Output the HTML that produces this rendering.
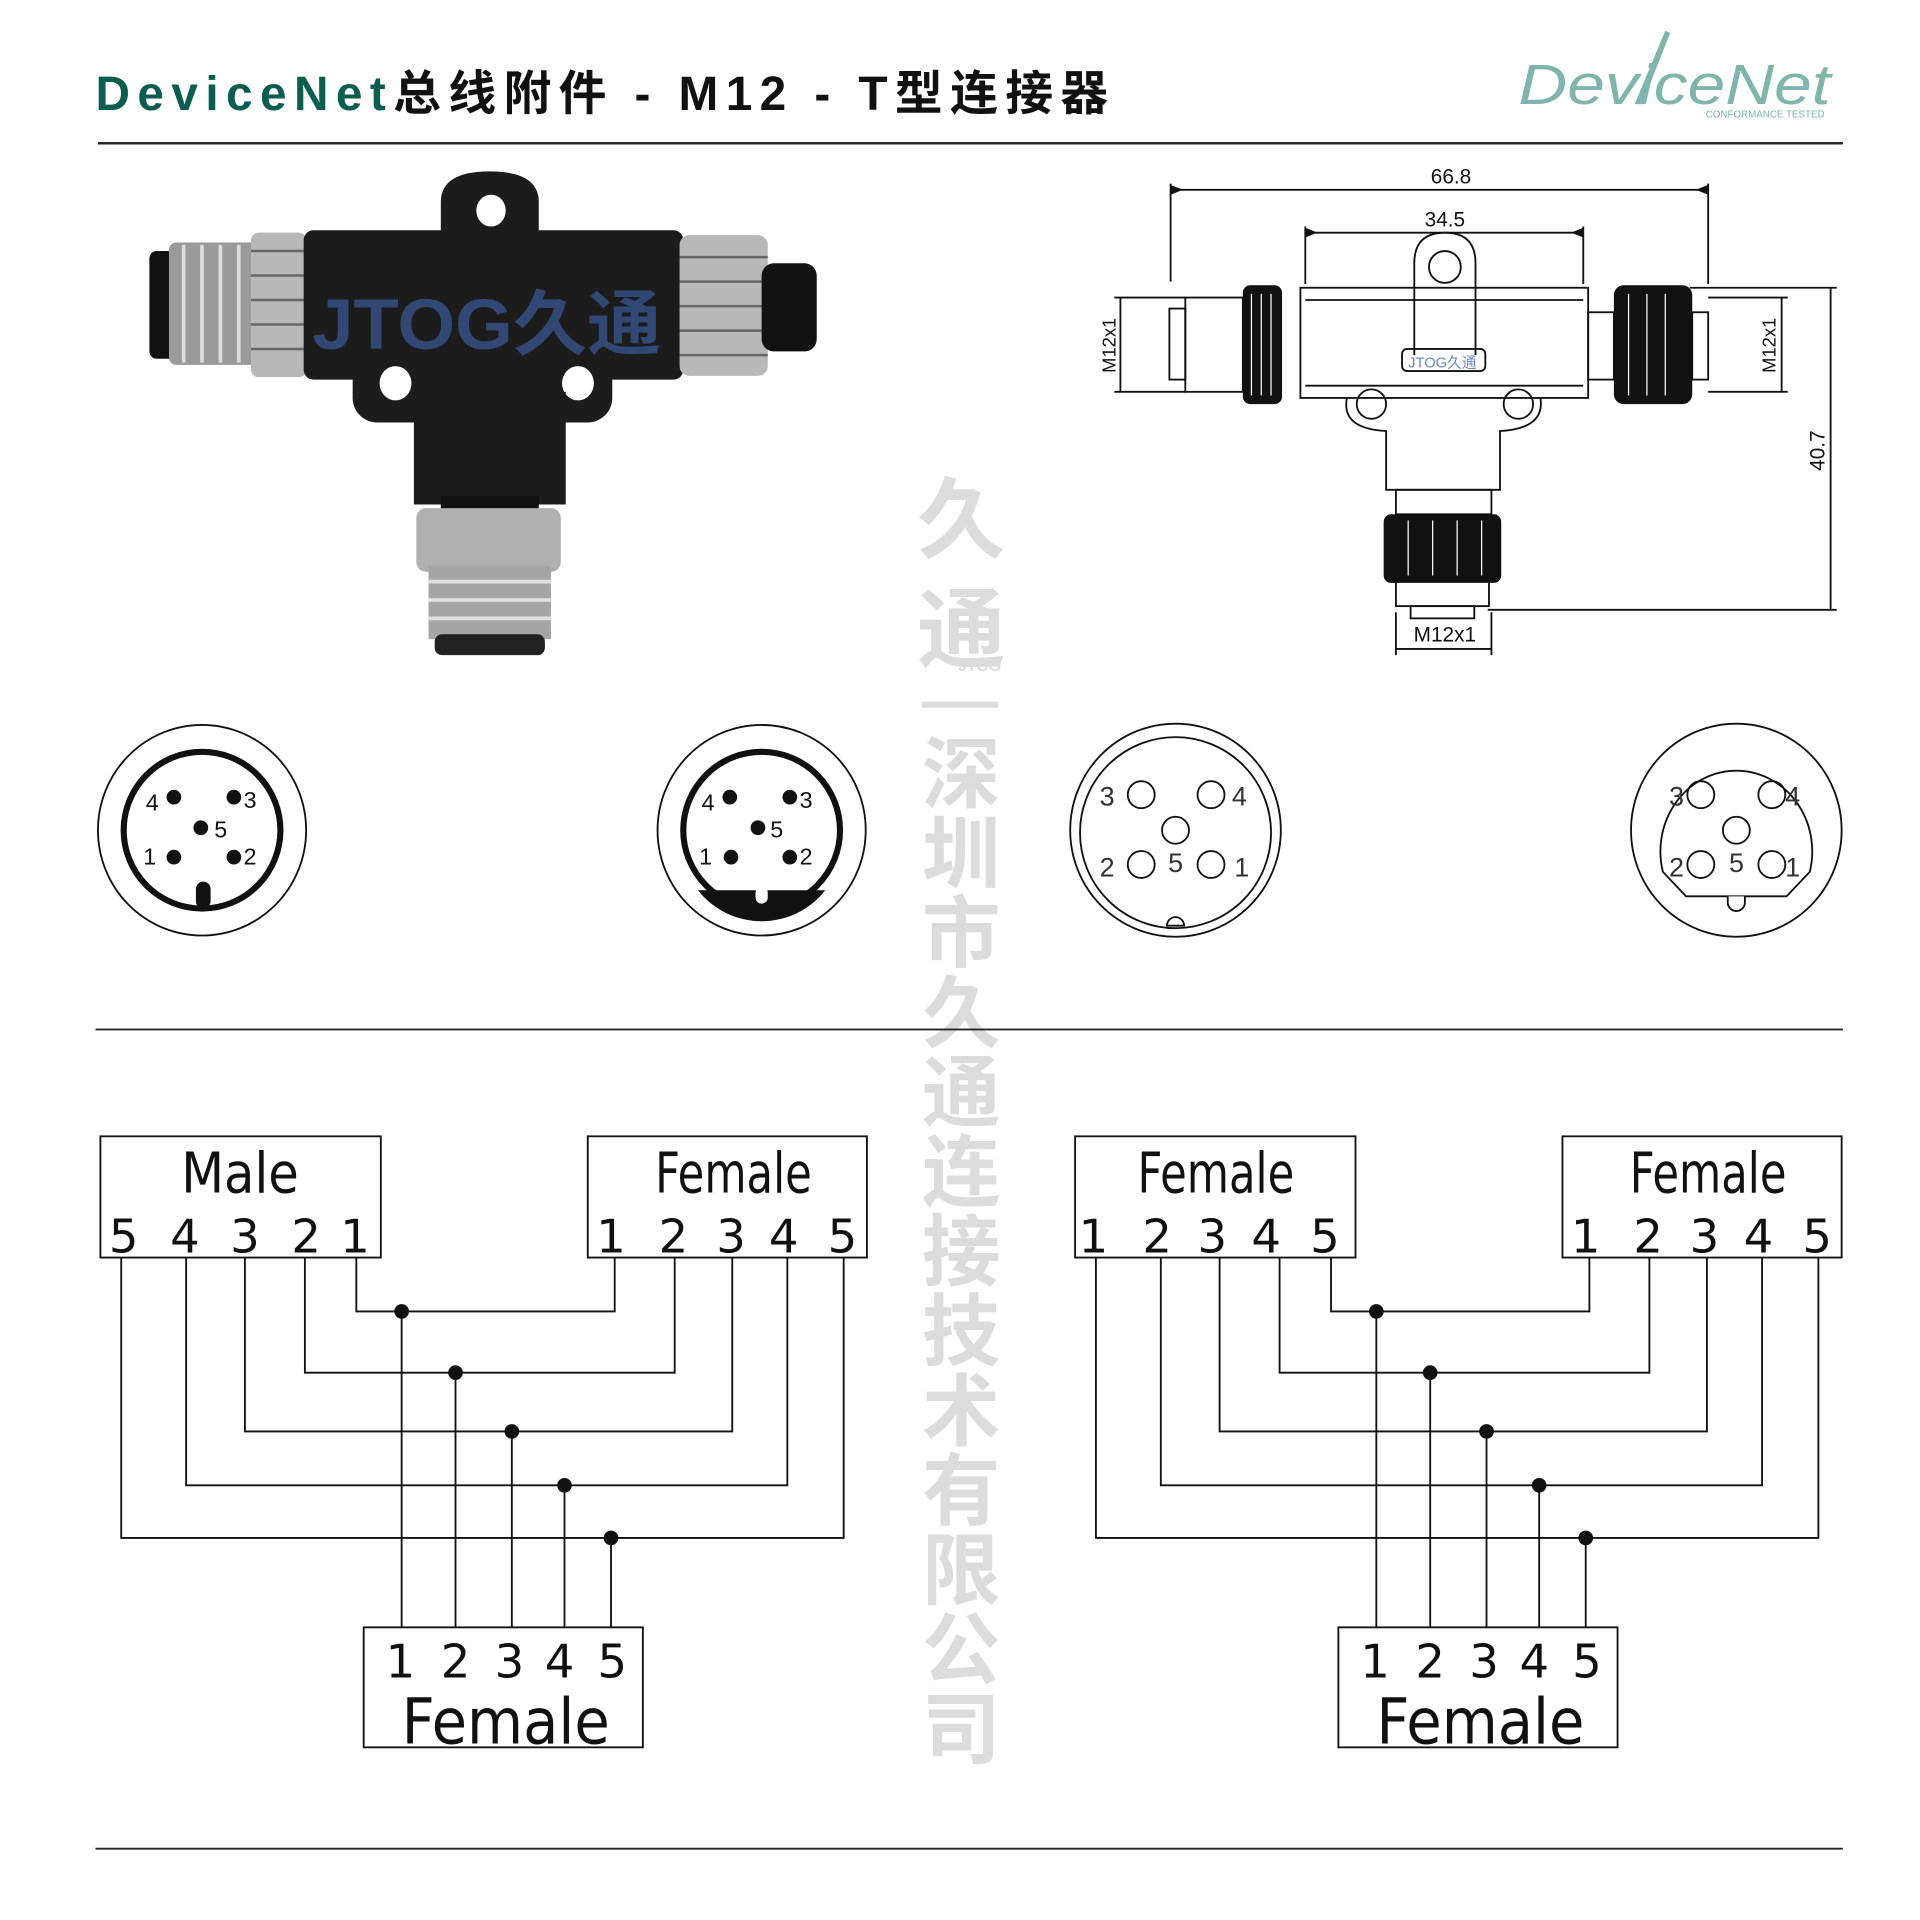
<!DOCTYPE html>
<html><head><meta charset="utf-8"><style>
html,body{margin:0;padding:0;background:#fff;}
svg{display:block}
.t{font-family:"Liberation Sans","Noto Sans CJK SC",sans-serif}
</style></head><body>
<svg width="1920" height="1920" viewBox="0 0 1568 1568" xmlns="http://www.w3.org/2000/svg" class="t">
<!-- watermark -->
<g fill="#dcdcdc" font-family="'Noto Sans CJK SC',sans-serif" font-weight="bold" font-size="64" text-anchor="middle">
<text x="785" y="450" font-size="72">久</text>
<text x="785" y="540" font-size="72">通</text>
<text x="800" y="548" font-size="13" font-family="'Liberation Sans',sans-serif">JTOG</text>
<rect x="753" y="573" width="62" height="5"/>
<text x="785" y="655">深</text><text x="785" y="720">圳</text><text x="785" y="785">市</text>
<text x="785" y="850">久</text><text x="785" y="915">通</text><text x="785" y="980">连</text>
<text x="785" y="1045">接</text><text x="785" y="1110">技</text><text x="785" y="1175">术</text>
<text x="785" y="1240">有</text><text x="785" y="1305">限</text><text x="785" y="1370">公</text>
<text x="785" y="1435">司</text>
</g>
<!-- title -->
<text x="78" y="90" font-size="39" font-weight="bold" textLength="827" lengthAdjust="spacing" font-family="'Liberation Sans','Noto Sans CJK SC',sans-serif"><tspan fill="#0b5e4f">DeviceNet</tspan><tspan fill="#111">总线附件 - M12   - T型连接器</tspan></text>
<!-- logo -->
<g fill="#7fb5ac">
<text x="1240" y="85" font-size="46" font-style="italic" font-family="'Liberation Sans',sans-serif" textLength="255" lengthAdjust="spacingAndGlyphs">DeviceNet</text>
<path d="M1335 85 L1360 25 L1364 27 L1341 85Z"/>
<text x="1393" y="96" font-size="8">CONFORMANCE TESTED</text>
</g>
<rect x="80" y="116" width="1425" height="2" fill="#222"/>
<rect x="78" y="840" width="1427" height="1.5" fill="#222"/>
<rect x="78" y="1509" width="1427" height="1.5" fill="#222"/>

<!-- photo -->
<g>
<rect x="122" y="205" width="22" height="88" rx="6" fill="#111"/>
<rect x="138" y="198" width="75" height="100" rx="6" fill="#9a9a9a"/>
<g stroke="#ddd" stroke-width="3"><line x1="150" y1="200" x2="150" y2="296"/><line x1="165" y1="200" x2="165" y2="296"/><line x1="180" y1="200" x2="180" y2="296"/><line x1="195" y1="200" x2="195" y2="296"/></g>
<rect x="205" y="190" width="45" height="118" rx="6" fill="#b8b8b8"/>
<g stroke="#666" stroke-width="2"><line x1="205" y1="205" x2="250" y2="205"/><line x1="205" y1="225" x2="250" y2="225"/><line x1="205" y1="245" x2="250" y2="245"/><line x1="205" y1="265" x2="250" y2="265"/><line x1="205" y1="285" x2="250" y2="285"/></g>
<rect x="248" y="188" width="310" height="122" rx="8" fill="#1c1c1c"/>
<path d="M360 195 L360 165 Q360 140 400 140 Q440 140 440 165 L440 195Z" fill="#1c1c1c"/>
<ellipse cx="401" cy="172" rx="12" ry="13" fill="#fff"/>
<rect x="288" y="290" width="212" height="55" rx="20" fill="#1c1c1c"/>
<ellipse cx="323" cy="313" rx="13" ry="14" fill="#fff"/>
<ellipse cx="472" cy="313" rx="13" ry="14" fill="#fff"/>
<rect x="338" y="320" width="124" height="92" fill="#1c1c1c"/>
<rect x="360" y="405" width="80" height="18" fill="#111"/>
<rect x="340" y="415" width="118" height="52" rx="8" fill="#b0b0b0"/>
<rect x="350" y="462" width="100" height="60" fill="#a5a5a5"/>
<g stroke="#e0e0e0" stroke-width="3"><line x1="350" y1="475" x2="450" y2="475"/><line x1="350" y1="490" x2="450" y2="490"/><line x1="350" y1="505" x2="450" y2="505"/></g>
<rect x="355" y="518" width="90" height="17" rx="6" fill="#222"/>
<rect x="555" y="192" width="72" height="115" rx="8" fill="#b8b8b8"/>
<g stroke="#666" stroke-width="2"><line x1="555" y1="210" x2="627" y2="210"/><line x1="555" y1="230" x2="627" y2="230"/><line x1="555" y1="250" x2="627" y2="250"/><line x1="555" y1="270" x2="627" y2="270"/><line x1="555" y1="290" x2="627" y2="290"/></g>
<rect x="622" y="215" width="45" height="72" rx="10" fill="#111"/>
<text x="255" y="285" font-size="58" font-weight="bold" fill="#3a5a9a" opacity="0.7" textLength="285" lengthAdjust="spacingAndGlyphs" font-family="'Liberation Sans','Noto Sans CJK SC',sans-serif">JTOG久通</text>
</g>

<!-- technical drawing -->
<g stroke="#111" stroke-width="1.5" fill="none">
<line x1="956" y1="155" x2="1395" y2="155"/><line x1="956" y1="150" x2="956" y2="230"/><line x1="1395" y1="150" x2="1395" y2="232"/>
<line x1="1066" y1="190" x2="1293" y2="190"/><line x1="1066" y1="185" x2="1066" y2="232"/><line x1="1293" y1="185" x2="1293" y2="232"/>
<rect x="1062" y="235" width="235" height="90"/>
<line x1="1066" y1="245" x2="1293" y2="245"/><line x1="1066" y1="315" x2="1293" y2="315"/>
<path d="M1155 290 L1155 215 Q1155 190 1180 190 Q1205 190 1205 215 L1205 290"/>
<circle cx="1180" cy="218" r="13"/>
<path d="M1100 325 Q1095 350 1132 352 L1132 400 L1225 400 L1225 352 Q1262 350 1258 325"/>
<circle cx="1120" cy="330" r="12"/><circle cx="1240" cy="330" r="12"/>
<rect x="1145" y="285" width="68" height="18" rx="4"/>
<rect x="1140" y="400" width="78" height="20"/>
<rect x="1140" y="475" width="76" height="20"/>
<rect x="1152" y="495" width="52" height="10"/>
<rect x="968" y="243" width="47" height="77"/>
<rect x="955" y="252" width="13" height="58"/>
<rect x="1297" y="255" width="21" height="55"/>
<rect x="1382" y="255" width="13" height="55"/>
<line x1="915" y1="243" x2="915" y2="320"/><line x1="910" y1="243" x2="968" y2="243"/><line x1="910" y1="320" x2="968" y2="320"/>
<line x1="1455" y1="243" x2="1455" y2="320"/><line x1="1395" y1="243" x2="1460" y2="243"/><line x1="1395" y1="320" x2="1460" y2="320"/>
<line x1="1495" y1="235" x2="1495" y2="498"/><line x1="1380" y1="235" x2="1500" y2="235"/><line x1="1215" y1="498" x2="1500" y2="498"/>
<line x1="1140" y1="530" x2="1218" y2="530"/><line x1="1140" y1="500" x2="1140" y2="535"/><line x1="1218" y1="500" x2="1218" y2="535"/>
</g>
<g fill="#111">
<rect x="1015" y="233" width="32" height="97" rx="6"/>
<rect x="1318" y="233" width="64" height="97" rx="8"/>
<rect x="1130" y="420" width="96" height="56" rx="6"/>
<g stroke="#fff" stroke-width="1"><line x1="1022" y1="240" x2="1022" y2="323"/><line x1="1030" y1="240" x2="1030" y2="323"/><line x1="1038" y1="240" x2="1038" y2="323"/><line x1="1330" y1="240" x2="1330" y2="323"/><line x1="1345" y1="240" x2="1345" y2="323"/><line x1="1360" y1="240" x2="1360" y2="323"/><line x1="1150" y1="425" x2="1150" y2="470"/><line x1="1170" y1="425" x2="1170" y2="470"/><line x1="1190" y1="425" x2="1190" y2="470"/><line x1="1210" y1="425" x2="1210" y2="470"/></g>
<path d="M956 151 L966 155 L956 159Z M1395 151 L1385 155 L1395 159Z M1066 186 L1076 190 L1066 194Z M1293 186 L1283 190 L1293 194Z"/>
<text x="1185" y="150" font-size="17" text-anchor="middle">66.8</text>
<text x="1180" y="185" font-size="17" text-anchor="middle">34.5</text>
<text x="1180" y="524" font-size="17" text-anchor="middle">M12x1</text>
<text x="1150" y="300" font-size="12" fill="#6a8ac0">JTOG久通</text>
<text transform="translate(911 282) rotate(-90)" font-size="15" text-anchor="middle">M12x1</text>
<text transform="translate(1450 282) rotate(-90)" font-size="15" text-anchor="middle">M12x1</text>
<text transform="translate(1490 368) rotate(-90)" font-size="17" text-anchor="middle">40.7</text>
</g>

<!-- pin faces -->
<g stroke="#111" fill="none">
<ellipse cx="165" cy="678" rx="85" ry="86" stroke-width="1.5"/>
<circle cx="165" cy="678" r="64" stroke-width="5"/>
<ellipse cx="622" cy="678" rx="85" ry="86" stroke-width="1.5"/>
<circle cx="622" cy="678" r="64" stroke-width="5"/>
<ellipse cx="960" cy="678" rx="86" ry="87" stroke-width="1.5"/>
<ellipse cx="960" cy="680" rx="78" ry="78" stroke-width="1.5"/>
<ellipse cx="1418" cy="678" rx="86" ry="87" stroke-width="1.5"/>
<path d="M1377 732 L1358 712 A62 66 0 1 1 1478 712 L1459 732 Z" stroke-width="1.5"/>
<g stroke-width="1.5"><circle cx="932" cy="649" r="11"/><circle cx="989" cy="649" r="11"/><circle cx="960" cy="678" r="11"/><circle cx="932" cy="706" r="11"/><circle cx="989" cy="706" r="11"/>
<circle cx="1389" cy="649" r="11"/><circle cx="1447" cy="649" r="11"/><circle cx="1418" cy="678" r="11"/><circle cx="1389" cy="706" r="11"/><circle cx="1447" cy="706" r="11"/></g>
</g>
<g fill="#111">
<rect x="160" y="720" width="12" height="22" rx="6"/>
<path d="M570 727 L674 727 A66 66 0 0 1 570 727Z"/>
<rect x="617" y="724" width="10" height="14" rx="5" fill="#fff"/>
<path d="M953 756 A7 7 0 0 1 967 756 Z" fill="#fff" stroke="#111" stroke-width="1.5"/>
<path d="M1411 732 L1411 737 A7 7 0 0 0 1425 737 L1425 732" fill="#fff" stroke="#111" stroke-width="1.5"/>
<g><circle cx="142" cy="651" r="6"/><circle cx="191" cy="651" r="6"/><circle cx="164" cy="676" r="6"/><circle cx="142" cy="700" r="6"/><circle cx="191" cy="700" r="6"/>
<circle cx="596" cy="651" r="6"/><circle cx="645" cy="651" r="6"/><circle cx="619" cy="676" r="6"/><circle cx="597" cy="700" r="6"/><circle cx="645" cy="700" r="6"/></g>
<g font-size="19"><text x="119" y="662">4</text><text x="199" y="660">3</text><text x="175" y="684">5</text><text x="117" y="706">1</text><text x="199" y="706">2</text>
<text x="573" y="662">4</text><text x="653" y="660">3</text><text x="629" y="684">5</text><text x="571" y="706">1</text><text x="653" y="706">2</text></g>
<g font-size="22" fill="#333"><text x="898" y="658">3</text><text x="1006" y="658">4</text><text x="898" y="716">2</text><text x="954" y="712">5</text><text x="1008" y="716">1</text>
<text x="1363" y="658">3</text><text x="1458" y="658">4</text><text x="1363" y="716">2</text><text x="1412" y="712">5</text><text x="1458" y="716">1</text></g>
</g>

<!-- wiring diagrams -->
<g id="w1">
<g stroke="#111" stroke-width="1.5" fill="none">
<rect x="82" y="928" width="229" height="99"/>
<rect x="480" y="928" width="228" height="99"/>
<rect x="297" y="1329" width="228" height="98"/>
<path d="M291 1027 V1071 H502 V1027"/>
<path d="M249 1027 V1121 H551 V1027"/>
<path d="M200 1027 V1169 H598 V1027"/>
<path d="M152 1027 V1213 H643 V1027"/>
<path d="M99 1027 V1256 H689 V1027"/>
<path d="M328 1071 V1329 M372 1121 V1329 M418 1169 V1329 M461 1213 V1329 M499 1256 V1329"/>
</g>
<g fill="#111"><circle cx="328" cy="1071" r="6"/><circle cx="372" cy="1121" r="6"/><circle cx="418" cy="1169" r="6"/><circle cx="461" cy="1213" r="6"/><circle cx="499" cy="1256" r="6"/></g>
</g>
<use href="#w1" x="796" y="0"/>
<g fill="#111" font-family="'DejaVu Sans','Liberation Sans',sans-serif" text-anchor="middle">
<text x="196" y="974" font-size="46" textLength="96" lengthAdjust="spacingAndGlyphs">Male</text>
<text x="599" y="974" font-size="46" textLength="128" lengthAdjust="spacingAndGlyphs">Female</text>
<text x="993" y="974" font-size="46" textLength="128" lengthAdjust="spacingAndGlyphs">Female</text>
<text x="1395" y="974" font-size="46" textLength="128" lengthAdjust="spacingAndGlyphs">Female</text>
<text x="413" y="1424" font-size="52" textLength="170" lengthAdjust="spacingAndGlyphs">Female</text>
<text x="1209" y="1424" font-size="52" textLength="170" lengthAdjust="spacingAndGlyphs">Female</text>
<g font-size="38">
<text x="101" y="1023">5</text><text x="151" y="1023">4</text><text x="200" y="1023">3</text><text x="250" y="1023">2</text><text x="290" y="1023">1</text>
<text x="499" y="1023">1</text><text x="550" y="1023">2</text><text x="597" y="1023">3</text><text x="640" y="1023">4</text><text x="688" y="1023">5</text>
<text x="893" y="1023">1</text><text x="945" y="1023">2</text><text x="990" y="1023">3</text><text x="1034" y="1023">4</text><text x="1082" y="1023">5</text>
<text x="1295" y="1023">1</text><text x="1346" y="1023">2</text><text x="1392" y="1023">3</text><text x="1436" y="1023">4</text><text x="1484" y="1023">5</text>
<text x="327" y="1370">1</text><text x="372" y="1370">2</text><text x="416" y="1370">3</text><text x="457" y="1370">4</text><text x="500" y="1370">5</text>
<text x="1123" y="1370">1</text><text x="1168" y="1370">2</text><text x="1212" y="1370">3</text><text x="1253" y="1370">4</text><text x="1296" y="1370">5</text>
</g>
</g>
</svg>
</body></html>
